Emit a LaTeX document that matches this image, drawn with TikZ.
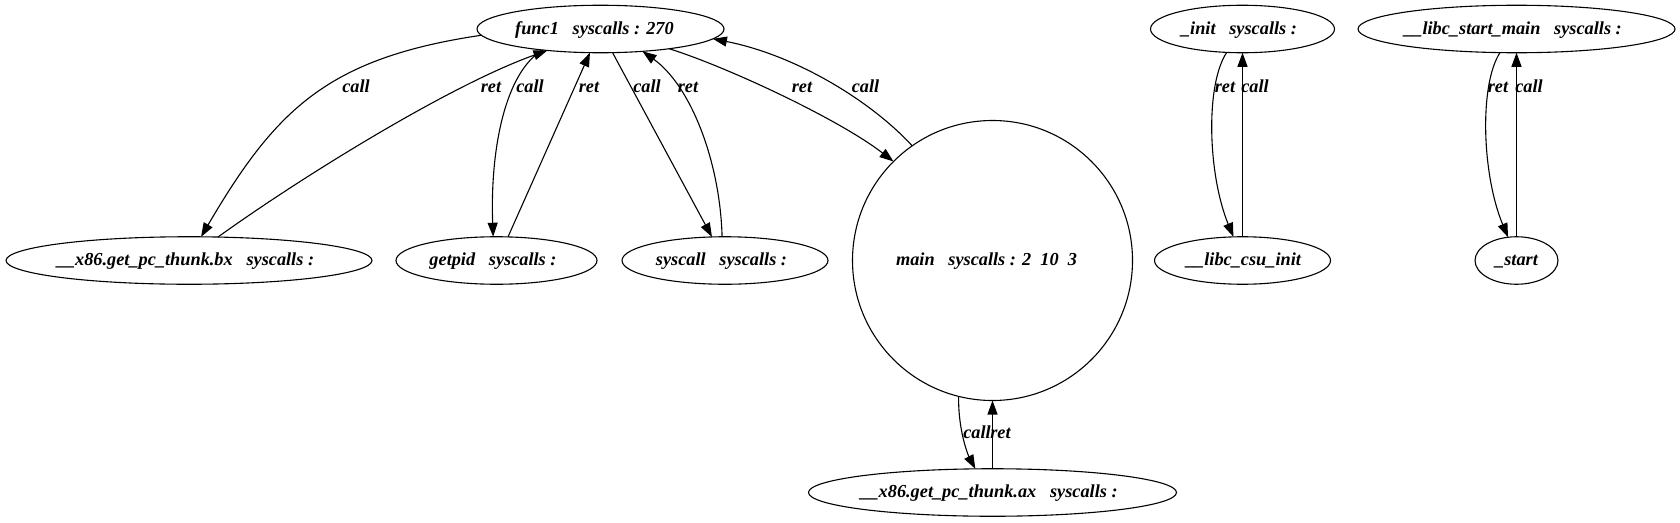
\documentclass[tikz,border=0pt]{standalone}
\usepackage{fontspec}
\setmainfont{Liberation Serif}
\usetikzlibrary{arrows.meta,shapes.geometric}
\newcommand{\ntext}[2]{\makebox[0pt]{#1\hspace{#2}}}
\begin{document}
\begin{tikzpicture}[x=1pt,y=-1pt,
  every node/.style={font=\fontsize{18.3}{20}\selectfont\bfseries\itshape},
  fn/.style={draw, ellipse, line width=1.1pt, inner sep=0pt, outer sep=0pt,
    minimum height=47.5pt, text height=13pt, text depth=3pt},
  bigc/.style={draw, circle, line width=1.1pt, inner sep=0pt, outer sep=0pt,
    minimum size=280pt, text height=13pt, text depth=3pt},
  lab/.style={anchor=base, inner sep=0pt},
  edge/.style={line width=1.1pt, -{Triangle[length=14pt,width=10pt]}}]
\useasboundingbox (0,0) rectangle (1680,522);
% nodes
\node[fn, minimum width=247pt] (func1) at (600.5,29) {\ntext{func1\hspace{0.75em}syscalls : 270}{12pt}};
\node[fn, minimum width=366pt] (bx) at (189,260.5) {\ntext{\_\_x86.get\_pc\_thunk.bx\hspace{0.75em}syscalls :}{7pt}};
\node[fn, minimum width=201pt] (getpid) at (496.5,260.5) {\ntext{getpid\hspace{0.75em}syscalls :}{7pt}};
\node[fn, minimum width=206pt] (syscall) at (725,260.5) {\ntext{syscall\hspace{0.75em}syscalls :}{7pt}};
\node[bigc] (main) at (992.5,260.5) {\ntext{main\hspace{0.75em}syscalls : 2\ \ 10\ \ 3}{12pt}};
\node[fn, minimum width=368pt] (ax) at (992.5,492.5) {\ntext{\_\_x86.get\_pc\_thunk.ax\hspace{0.75em}syscalls :}{7pt}};
\node[fn, minimum width=184pt] (init) at (1242.5,29) {\ntext{\_init\hspace{0.75em}syscalls :}{7pt}};
\node[fn, minimum width=176pt] (csu) at (1242.5,260.5) {\ntext{\_\_libc\_csu\_init}{-2pt}};
\node[fn, minimum width=317pt] (lsm) at (1516.5,29) {\ntext{\_\_libc\_start\_main\hspace{0.75em}syscalls :}{7pt}};
\node[fn, minimum width=83pt] (start) at (1516.5,260.5) {\ntext{\_start}{0pt}};
% edges
\draw[edge] (func1.183) .. controls (328,58) and (276,109) .. (bx.63);
\draw[edge] (bx.39) .. controls (300,178) and (450,85) .. (func1.202);
\draw[edge] (func1.200) .. controls (505,72) and (490,150) .. (getpid.98);
\draw[edge] (getpid.64) -- (func1.246);
\draw[edge] (func1.297) -- (syscall.119);
\draw[edge] (syscall.97) .. controls (720,160) and (690,85) .. (func1.332);
\draw[edge] (func1.344) .. controls (730,68) and (840,120) .. (main.135);
\draw[edge] (main.125) .. controls (870,100) and (795,55) .. (func1.355);
\draw[edge] (main.256) .. controls (958,430) and (968,455) .. (ax.126);
\draw[edge] (ax.north) -- (main.south);
\draw[edge] (init.236) .. controls (1205,85) and (1208,175) .. (csu.111);
\draw[edge] (csu.north) -- (init.south);
\draw[edge] (lsm.235) .. controls (1479,85) and (1482,175) .. (start.110);
\draw[edge] (start.north) -- (lsm.south);
% labels
\node[lab] (l1) at (356,92) {call};
\node[lab] (l2) at (491,92) {ret};
\node[lab] (l3) at (530,92) {call};
\node[lab] (l4) at (589,92) {ret};
\node[lab] (l5) at (647,92) {call};
\node[lab] (l6) at (688,92) {ret};
\node[lab] (l7) at (802,92) {ret};
\node[lab] (l8) at (865.5,92) {call};
\node[lab] (l9) at (977,438) {call};
\node[lab] (l10) at (1000.5,438) {ret};
\node[lab] (l11) at (1225,92) {ret};
\node[lab] (l12) at (1255,92) {call};
\node[lab] (l13) at (1498,92) {ret};
\node[lab] (l14) at (1529,92) {call};
\end{tikzpicture}
\end{document}
